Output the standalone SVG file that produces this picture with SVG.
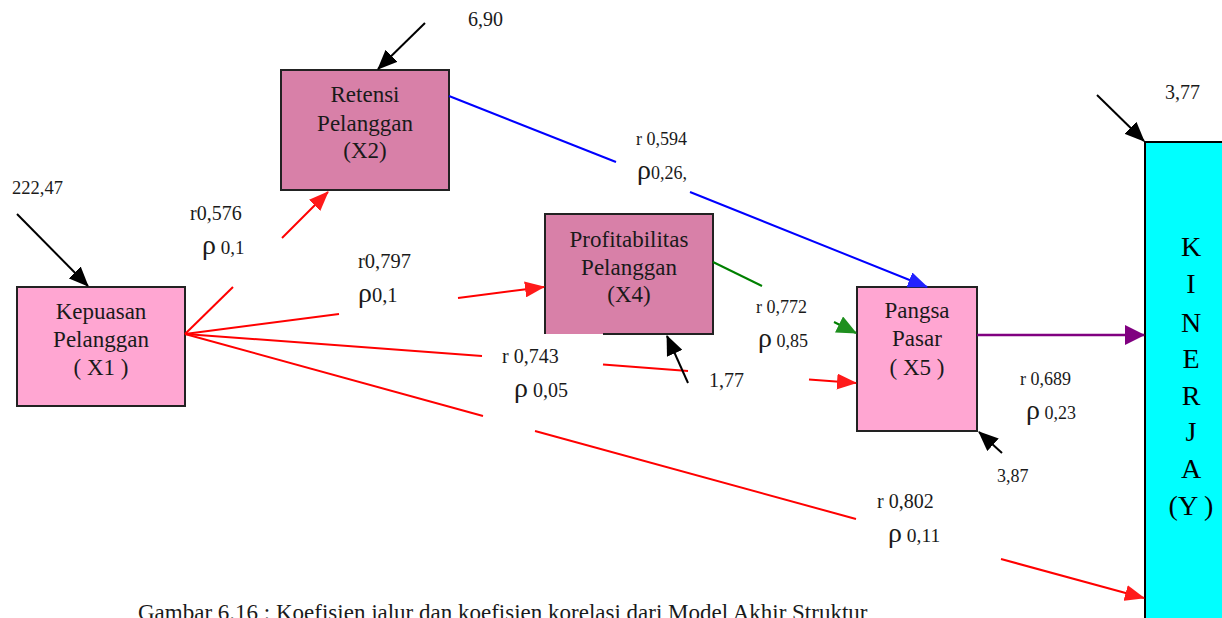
<svg xmlns="http://www.w3.org/2000/svg" width="1222" height="618" viewBox="0 0 1222 618">
<style>
.box{stroke:#222;stroke-width:2}
.light{fill:#ffa6d2}
.dark{fill:#d880a8}
.nt{font-family:"Liberation Serif","Times New Roman",serif;font-size:23px;text-anchor:middle;fill:#1a1a1a}
.yt{font-family:"Liberation Serif","Times New Roman",serif;font-size:28px;text-anchor:middle;fill:#000}
.lb{font-family:"Liberation Serif","Times New Roman",serif;fill:#1a1a1a}
.rho{font-size:28px}
.red{stroke:#ff0000;stroke-width:2;fill:none}
.blue{stroke:#0000ff;stroke-width:2;fill:none}
.green{stroke:#008000;stroke-width:2;fill:none}
.purple{stroke:#800080;stroke-width:2.5;fill:none}
.blk{stroke:#000;stroke-width:2;fill:none}
</style>
<defs>
<marker id="ar" viewBox="0 0 20 16" refX="19" refY="8" markerWidth="20" markerHeight="16" orient="auto" markerUnits="userSpaceOnUse"><path d="M0,0 L20,8 L0,16 z" fill="#ff1a1a"/></marker>
<marker id="ab" viewBox="0 0 20 16" refX="19" refY="8" markerWidth="20" markerHeight="16" orient="auto" markerUnits="userSpaceOnUse"><path d="M0,0 L20,8 L0,16 z" fill="#2222ff"/></marker>
<marker id="ag" viewBox="0 0 20 18" refX="19" refY="9" markerWidth="20" markerHeight="18" orient="auto" markerUnits="userSpaceOnUse"><path d="M0,0 L20,9 L0,18 z" fill="#1f8f1f"/></marker>
<marker id="ap" viewBox="0 0 20 20" refX="19" refY="10" markerWidth="20" markerHeight="20" orient="auto" markerUnits="userSpaceOnUse"><path d="M0,0 L20,10 L0,20 z" fill="#800080"/></marker>
<marker id="ak" viewBox="0 0 20 17" refX="19" refY="8.5" markerWidth="20" markerHeight="17" orient="auto" markerUnits="userSpaceOnUse"><path d="M0,0 L20,8.5 L0,17 z" fill="#000"/></marker>
</defs>

<g id="X1">
<rect class="box light" x="17" y="287" width="168" height="119"/>
<text class="nt" x="101" y="319">Kepuasan</text>
<text class="nt" x="101" y="347">Pelanggan</text>
<text class="nt" x="101" y="375">( X1 )</text>
</g>
<g id="X2">
<rect class="box dark" x="281" y="70" width="168" height="120"/>
<text class="nt" x="365" y="102">Retensi</text>
<text class="nt" x="365" y="131">Pelanggan</text>
<text class="nt" x="365" y="158">(X2)</text>
</g>
<g id="X4">
<rect class="dark" x="545" y="214" width="168" height="120"/>
<path d="M603,334 H713 V214 H545 V334" fill="none" stroke="#222" stroke-width="2"/>
<text class="nt" x="629" y="247">Profitabilitas</text>
<text class="nt" x="629" y="275">Pelanggan</text>
<text class="nt" x="629" y="302">(X4)</text>
</g>
<g id="X5">
<rect class="box light" x="857" y="287" width="120" height="144"/>
<text class="nt" x="917" y="318">Pangsa</text>
<text class="nt" x="917" y="346">Pasar</text>
<text class="nt" x="917" y="375">( X5 )</text>
</g>
<g id="Y">
<rect x="1145" y="142" width="90" height="490" fill="#00ffff" stroke="#000" stroke-width="2"/>
<text class="yt" x="1191" y="256">K</text>
<text class="yt" x="1191" y="293">I</text>
<text class="yt" x="1191" y="332">N</text>
<text class="yt" x="1191" y="368">E</text>
<text class="yt" x="1191" y="405">R</text>
<text class="yt" x="1191" y="441">J</text>
<text class="yt" x="1191" y="478">A</text>
<text class="yt" x="1191" y="515">(Y )</text>
</g>

<g id="connectors">
<line class="red" x1="185" y1="334" x2="233" y2="287"/>
<line class="red" x1="282" y1="238" x2="328" y2="192" marker-end="url(#ar)"/>
<line class="red" x1="185" y1="334" x2="339" y2="314"/>
<line class="red" x1="458" y1="298" x2="544" y2="287" marker-end="url(#ar)"/>
<line class="red" x1="185" y1="334" x2="482" y2="356"/>
<line class="red" x1="603" y1="364.5" x2="688" y2="371"/>
<line class="red" x1="809" y1="379.5" x2="856" y2="383" marker-end="url(#ar)"/>
<line class="red" x1="185" y1="334" x2="483" y2="416"/>
<line class="red" x1="535" y1="431" x2="856" y2="519"/>
<line class="red" x1="1001" y1="559" x2="1144" y2="598" marker-end="url(#ar)"/>
<line class="blue" x1="449" y1="96" x2="616" y2="162"/>
<line class="blue" x1="690" y1="192" x2="927" y2="287" marker-end="url(#ab)"/>
<line class="green" x1="713" y1="262" x2="762" y2="286"/>
<line class="green" x1="834" y1="322" x2="856" y2="333" marker-end="url(#ag)"/>
<line class="purple" x1="977" y1="335" x2="1144" y2="335" marker-end="url(#ap)"/>
<line class="blk" x1="17" y1="214" x2="88" y2="286" marker-end="url(#ak)"/>
<line class="blk" x1="425" y1="23" x2="378" y2="69" marker-end="url(#ak)"/>
<line class="blk" x1="688" y1="383" x2="667" y2="336" marker-end="url(#ak)"/>
<line class="blk" x1="1002" y1="453" x2="979" y2="432" marker-end="url(#ak)"/>
<line class="blk" x1="1097" y1="95" x2="1144" y2="141" marker-end="url(#ak)"/>
</g>

<g id="labels">
<text class="lb" x="12" y="194" font-size="18.5">222,47</text>
<text class="lb" x="468" y="26" font-size="20">6,90</text>
<text class="lb" x="709" y="387" font-size="20">1,77</text>
<text class="lb" x="997" y="482" font-size="18">3,87</text>
<text class="lb" x="1165" y="99" font-size="20">3,77</text>

<text class="lb" x="190" y="220" font-size="20">r0,576</text>
<text class="lb" x="202" y="254" font-size="19"><tspan class="rho">ρ</tspan> 0,1</text>
<text class="lb" x="358" y="268" font-size="20.5">r0,797</text>
<text class="lb" x="358" y="302" font-size="20.5"><tspan class="rho">ρ</tspan>0,1</text>
<text class="lb" x="502" y="363" font-size="20">r 0,743</text>
<text class="lb" x="514" y="397" font-size="20"><tspan class="rho">ρ</tspan> 0,05</text>
<text class="lb" x="636" y="145" font-size="18">r 0,594</text>
<text class="lb" x="637" y="179" font-size="18"><tspan class="rho">ρ</tspan>0,26,</text>
<text class="lb" x="756" y="313" font-size="18">r 0,772</text>
<text class="lb" x="758" y="347" font-size="18"><tspan class="rho">ρ</tspan> 0,85</text>
<text class="lb" x="1020" y="385" font-size="18">r 0,689</text>
<text class="lb" x="1026" y="419" font-size="18"><tspan class="rho">ρ</tspan> 0,23</text>
<text class="lb" x="877" y="508" font-size="20">r 0,802</text>
<text class="lb" x="888" y="542" font-size="19.5"><tspan class="rho">ρ</tspan> 0,11</text>
</g>

<text id="caption" class="lb" x="138" y="620" font-size="23">Gambar 6.16 :  Koefisien jalur dan koefisien korelasi dari Model Akhir Struktur</text>
</svg>
